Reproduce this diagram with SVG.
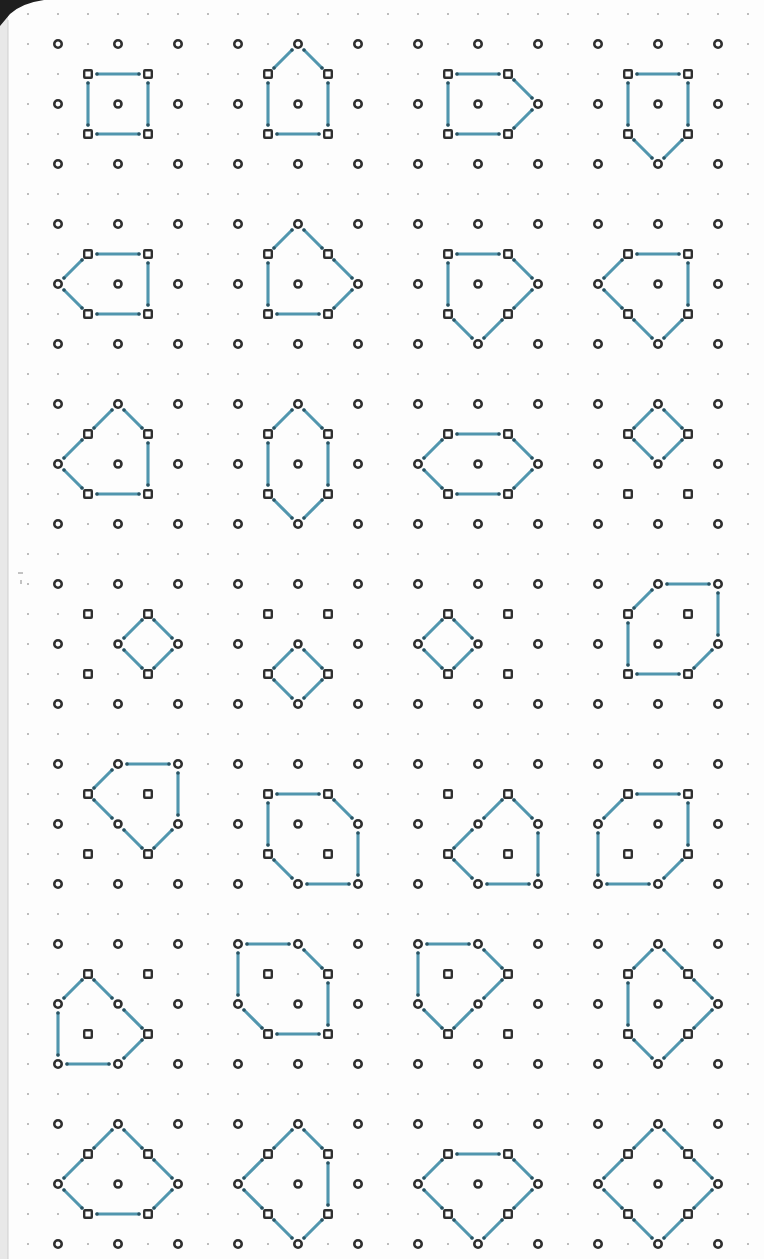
<svg xmlns="http://www.w3.org/2000/svg" xmlns:xlink="http://www.w3.org/1999/xlink" width="764" height="1259" viewBox="0 0 764 1259">
<style>
.e{fill:none;stroke:#5196ae;stroke-width:3.1;stroke-linecap:round;marker-start:url(#tip);marker-mid:url(#tip);marker-end:url(#tip)}
.c{fill:#fff;stroke:#303030;stroke-width:2.6}
.s{fill:#fff;stroke:#303030;stroke-width:2.4}
</style>
<defs>
<marker id="tip" markerUnits="userSpaceOnUse" markerWidth="6" markerHeight="6" refX="3" refY="3" overflow="visible">
<circle cx="3" cy="3" r="1.8" fill="#2c5362"/>
</marker>
<pattern id="dots" width="30" height="30" patternUnits="userSpaceOnUse" x="13" y="-1">
<circle cx="15" cy="15" r="1" fill="#a8a8a8"/>
</pattern>
<g id="cell">
<circle class="c" cx="0" cy="0" r="3.7"/><circle class="c" cx="60" cy="0" r="3.7"/><circle class="c" cx="120" cy="0" r="3.7"/>
<circle class="c" cx="0" cy="60" r="3.7"/><circle class="c" cx="60" cy="60" r="3.5"/><circle class="c" cx="120" cy="60" r="3.7"/>
<circle class="c" cx="0" cy="120" r="3.7"/><circle class="c" cx="60" cy="120" r="3.7"/><circle class="c" cx="120" cy="120" r="3.7"/>
<rect class="s" x="26.2" y="26.2" width="7.6" height="7.6" rx="0.8"/><rect class="s" x="86.2" y="26.2" width="7.6" height="7.6" rx="0.8"/>
<rect class="s" x="26.2" y="86.2" width="7.6" height="7.6" rx="0.8"/><rect class="s" x="86.2" y="86.2" width="7.6" height="7.6" rx="0.8"/>
</g>
</defs>
<g id="page">
<rect width="764" height="1259" fill="#fdfdfd"/>
<rect x="0" y="0" width="8" height="1259" fill="#e8e8e8"/>
<line x1="8" y1="20" x2="8" y2="1259" stroke="#cfcfcf" stroke-width="1"/>
<path d="M0 0H44Q22 3 10 14L0 26Z" fill="#1e1e1e"/>
<rect x="20" y="0" width="744" height="1259" fill="url(#dots)"/>
<path d="M18 573H23M21 580V584" stroke="#888" stroke-width="1"/>
</g>
<g id="points">
<g id="d1"><use xlink:href="#cell" x="58" y="44"/></g>
<g id="d2"><use xlink:href="#cell" x="238" y="44"/></g>
<g id="d3"><use xlink:href="#cell" x="418" y="44"/></g>
<g id="d4"><use xlink:href="#cell" x="598" y="44"/></g>
<g id="d5"><use xlink:href="#cell" x="58" y="224"/></g>
<g id="d6"><use xlink:href="#cell" x="238" y="224"/></g>
<g id="d7"><use xlink:href="#cell" x="418" y="224"/></g>
<g id="d8"><use xlink:href="#cell" x="598" y="224"/></g>
<g id="d9"><use xlink:href="#cell" x="58" y="404"/></g>
<g id="d10"><use xlink:href="#cell" x="238" y="404"/></g>
<g id="d11"><use xlink:href="#cell" x="418" y="404"/></g>
<g id="d12"><use xlink:href="#cell" x="598" y="404"/></g>
<g id="d13"><use xlink:href="#cell" x="58" y="584"/></g>
<g id="d14"><use xlink:href="#cell" x="238" y="584"/></g>
<g id="d15"><use xlink:href="#cell" x="418" y="584"/></g>
<g id="d16"><use xlink:href="#cell" x="598" y="584"/></g>
<g id="d17"><use xlink:href="#cell" x="58" y="764"/></g>
<g id="d18"><use xlink:href="#cell" x="238" y="764"/></g>
<g id="d19"><use xlink:href="#cell" x="418" y="764"/></g>
<g id="d20"><use xlink:href="#cell" x="598" y="764"/></g>
<g id="d21"><use xlink:href="#cell" x="58" y="944"/></g>
<g id="d22"><use xlink:href="#cell" x="238" y="944"/></g>
<g id="d23"><use xlink:href="#cell" x="418" y="944"/></g>
<g id="d24"><use xlink:href="#cell" x="598" y="944"/></g>
<g id="d25"><use xlink:href="#cell" x="58" y="1124"/></g>
<g id="d26"><use xlink:href="#cell" x="238" y="1124"/></g>
<g id="d27"><use xlink:href="#cell" x="418" y="1124"/></g>
<g id="d28"><use xlink:href="#cell" x="598" y="1124"/></g>
</g>
<g id="connectors" class="e">
<path transform="translate(58 44)" d="M39 30H81M90 39V81M81 90H39M30 81V39"/>
<path transform="translate(238 44)" d="M36 24L54 6M66 6L84 24M90 39V81M81 90H39M30 81V39"/>
<path transform="translate(418 44)" d="M39 30H81M96 36L114 54M114 66L96 84M81 90H39M30 81V39"/>
<path transform="translate(598 44)" d="M39 30H81M90 39V81M84 96L66 114M54 114L36 96M30 81V39"/>
<path transform="translate(58 224)" d="M39 30H81M90 39V81M81 90H39M24 84L6 66M6 54L24 36"/>
<path transform="translate(238 224)" d="M66 6L84 24M96 36L114 54M114 66L96 84M81 90H39M30 81V39M36 24L54 6"/>
<path transform="translate(418 224)" d="M39 30H81M96 36L114 54M114 66L96 84M84 96L66 114M54 114L36 96M30 81V39"/>
<path transform="translate(598 224)" d="M39 30H81M90 39V81M84 96L66 114M54 114L36 96M24 84L6 66M6 54L24 36"/>
<path transform="translate(58 404)" d="M66 6L84 24M90 39V81M81 90H39M24 84L6 66M6 54L24 36M36 24L54 6"/>
<path transform="translate(238 404)" d="M66 6L84 24M90 39V81M84 96L66 114M54 114L36 96M30 81V39M36 24L54 6"/>
<path transform="translate(418 404)" d="M6 54L24 36M39 30H81M96 36L114 54M114 66L96 84M81 90H39M24 84L6 66"/>
<path transform="translate(598 404)" d="M66 6L84 24M84 36L66 54M54 54L36 36M36 24L54 6"/>
<path transform="translate(58 584)" d="M66 54L84 36M96 36L114 54M114 66L96 84M84 84L66 66"/>
<path transform="translate(238 584)" d="M66 66L84 84M84 96L66 114M54 114L36 96M36 84L54 66"/>
<path transform="translate(418 584)" d="M36 36L54 54M54 66L36 84M24 84L6 66M6 54L24 36"/>
<path transform="translate(598 584)" d="M69 0H111M120 9V51M114 66L96 84M81 90H39M30 81V39M36 24L54 6"/>
<path transform="translate(58 764)" d="M69 0H111M120 9V51M114 66L96 84M84 84L66 66M54 54L36 36M36 24L54 6"/>
<path transform="translate(238 764)" d="M39 30H81M96 36L114 54M120 69V111M111 120H69M54 114L36 96M30 81V39"/>
<path transform="translate(418 764)" d="M96 36L114 54M120 69V111M111 120H69M54 114L36 96M36 84L54 66M66 54L84 36"/>
<path transform="translate(598 764)" d="M39 30H81M90 39V81M84 96L66 114M51 120H9M0 111V69M6 54L24 36"/>
<path transform="translate(58 944)" d="M36 36L54 54M66 66L84 84M84 96L66 114M51 120H9M0 111V69M6 54L24 36"/>
<path transform="translate(238 944)" d="M9 0H51M66 6L84 24M90 39V81M81 90H39M24 84L6 66M0 51V9"/>
<path transform="translate(418 944)" d="M9 0H51M66 6L84 24M84 36L66 54M54 66L36 84M24 84L6 66M0 51V9"/>
<path transform="translate(598 944)" d="M66 6L84 24M96 36L114 54M114 66L96 84M84 96L66 114M54 114L36 96M30 81V39M36 24L54 6"/>
<path transform="translate(58 1124)" d="M66 6L84 24M96 36L114 54M114 66L96 84M81 90H39M24 84L6 66M6 54L24 36M36 24L54 6"/>
<path transform="translate(238 1124)" d="M6 54L24 36M36 24L54 6M66 6L84 24M90 39V81M84 96L66 114M54 114L36 96M24 84L6 66"/>
<path transform="translate(418 1124)" d="M39 30H81M96 36L114 54M114 66L96 84M84 96L66 114M54 114L36 96M24 84L6 66M6 54L24 36"/>
<path transform="translate(598 1124)" d="M66 6L84 24M96 36L114 54M114 66L96 84M84 96L66 114M54 114L36 96M24 84L6 66M6 54L24 36M36 24L54 6"/>
</g>
</svg>
